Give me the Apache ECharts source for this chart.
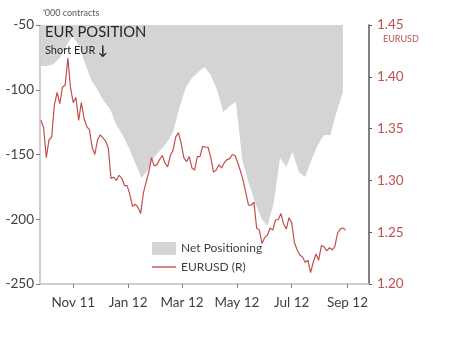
<!DOCTYPE html>
<html><head><meta charset="utf-8">
<script src="https://cdn.jsdelivr.net/npm/echarts@6/dist/echarts.min.js"></script>
<style>html,body{margin:0;padding:0;background:#fff}#c{width:450px;height:339px}</style>
</head><body><div id="c"></div>
<script>
// Weekly net positioning ('000 contracts), weekly from 2011-09-26
const netStart = [2011, 8, 26];
const netStepDays = 7;
const netPositioning = [
  -81.7, -81.7, -80.1, -75.5, -66.2, -58.5, -65.4, -79.3, -92.5, -100.2,
  -108.7, -114.9, -127.2, -134.9, -145.0, -156.6, -168.1, -162.0, -151.9, -146.5,
  -141.1, -132.6, -114.1, -98.6, -90.9, -86.3, -82.4, -88.6, -100.2, -117.2,
  -112.6, -109.5, -154.2, -171.2, -186.7, -199.0, -205.2, -187.5, -152.7, -159.7,
  -148.1, -163.5, -167.4, -154.2, -142.7, -134.9, -134.9, -117.2, -101.7
];
// EURUSD sampled every 3 days from 2011-09-26
const fxStart = [2011, 8, 26];
const fxStepDays = 3;
const eurusd = [
  1.358, 1.351, 1.322, 1.339, 1.342, 1.373, 1.385, 1.374, 1.390, 1.392,
  1.418, 1.389, 1.375, 1.380, 1.358, 1.375, 1.360, 1.352, 1.349, 1.332,
  1.325, 1.339, 1.344, 1.341, 1.338, 1.331, 1.302, 1.303, 1.300, 1.305,
  1.302, 1.295, 1.295, 1.286, 1.275, 1.277, 1.274, 1.268, 1.288, 1.298,
  1.308, 1.322, 1.314, 1.315, 1.320, 1.324, 1.317, 1.313, 1.324, 1.329,
  1.342, 1.346, 1.336, 1.322, 1.318, 1.323, 1.312, 1.310, 1.323, 1.323,
  1.333, 1.332, 1.332, 1.322, 1.308, 1.310, 1.315, 1.312, 1.317, 1.320,
  1.321, 1.325, 1.324, 1.317, 1.309, 1.300, 1.288, 1.276, 1.276, 1.279,
  1.254, 1.252, 1.239, 1.245, 1.247, 1.254, 1.252, 1.262, 1.262, 1.268,
  1.258, 1.253, 1.264, 1.259, 1.240, 1.233, 1.228, 1.226, 1.221, 1.223,
  1.211, 1.221, 1.229, 1.223, 1.237, 1.236, 1.232, 1.235, 1.233, 1.236,
  1.249, 1.253, 1.254, 1.252
];
const tickDates = ['2011-11-01', '2012-01-01', '2012-03-01', '2012-05-01', '2012-07-01', '2012-09-01'];
const monthNames = ['Jan','Feb','Mar','Apr','May','Jun','Jul','Aug','Sep','Oct','Nov','Dec'];
const axisRange = ['2011-09-25', '2012-09-25'];
const leftTicks = {min: -250, max: -50, interval: 50};
const rightTicks = {min: 1.20, max: 1.45, interval: 0.05};

function ts(s){ const p = s.split('-').map(Number); return new Date(p[0], p[1]-1, p[2]).getTime(); }
function seq(start, step, vals){ return vals.map((v,i)=>[new Date(start[0], start[1], start[2] + step*i).getTime(), v]); }

const RED = '#c0504d';
const FONT = 'Lato, "Open Sans", sans-serif';
const chart = echarts.init(document.getElementById('c'));
chart.setOption({
  animation: false,
  backgroundColor: '#fff',
  grid: {left: 40, right: 81, top: 25, bottom: 55},
  legend: {
    orient: 'vertical', left: 147, top: 237, itemWidth: 24, itemHeight: 13, itemGap: 6,
    textStyle: {fontFamily: FONT, fontSize: 12, color: '#404040'},
    data: [
      {name: 'Net Positioning', icon: 'rect', itemStyle: {color: '#d4d4d4'}},
      {name: 'EURUSD (R)', icon: 'path://M0,0H24V1.4H0Z', itemStyle: {color: RED}}
    ]
  },
  xAxis: {
    type: 'value', min: ts(axisRange[0]), max: ts(axisRange[1]),
    axisLine: {lineStyle: {color: '#bfbfbf', width: 1.5}},
    axisTick: {show: true, length: 4, customValues: tickDates.map(ts), lineStyle: {color: '#808080'}},
    axisLabel: {
      customValues: tickDates.map(ts), margin: 12, showMinLabel: true, showMaxLabel: true,
      fontFamily: FONT, fontSize: 13.5, color: '#404040',
      formatter: v => { const d = new Date(v); return monthNames[d.getMonth()] + ' ' + String(d.getFullYear()).slice(2); }
    },
    splitLine: {show: false}
  },
  yAxis: [
    {
      type: 'value', position: 'left', min: leftTicks.min, max: leftTicks.max, interval: leftTicks.interval,
      axisLine: {show: true, lineStyle: {color: '#bfbfbf', width: 1.5}},
      axisTick: {show: true, length: 4, lineStyle: {color: '#808080'}},
      axisLabel: {fontFamily: FONT, fontSize: 13.5, color: '#404040', margin: 6},
      splitLine: {show: false}
    },
    {
      type: 'value', position: 'right', min: rightTicks.min, max: rightTicks.max, interval: rightTicks.interval,
      axisLine: {show: true, lineStyle: {color: '#595959', width: 1.5}},
      axisTick: {show: true, length: 3, lineStyle: {color: '#595959'}},
      axisLabel: {fontFamily: FONT, fontSize: 13.5, color: RED, margin: 8, formatter: v => v.toFixed(2)},
      splitLine: {show: false}
    }
  ],
  series: [
    {
      name: 'Net Positioning', type: 'line', yAxisIndex: 0, symbol: 'none', z: 1,
      data: seq(netStart, netStepDays, netPositioning),
      lineStyle: {width: 0, color: '#d4d4d4'},
      itemStyle: {color: '#d4d4d4'},
      areaStyle: {color: '#d4d4d4', opacity: 1, origin: 'end'}
    },
    {
      name: 'EURUSD (R)', type: 'line', yAxisIndex: 1, symbol: 'none', z: 3,
      data: seq(fxStart, fxStepDays, eurusd),
      lineStyle: {width: 1.2, color: RED},
      itemStyle: {color: RED}
    }
  ],
  graphic: [
    {type: 'text', x: 43, y: 13, style: {text: "'000 contracts", font: '9px ' + FONT, fill: '#595959', textVerticalAlign: 'middle'}},
    {type: 'text', x: 45, y: 32, z: 10, style: {text: 'EUR POSITION', font: '14.8px ' + FONT, fill: '#262626', textVerticalAlign: 'middle'}},
    {type: 'text', x: 45, y: 50, z: 10, style: {text: 'Short EUR', font: '11px ' + FONT, fill: '#262626', textVerticalAlign: 'middle'}},
    {type: 'text', x: 98, y: 51, z: 10, style: {text: '\u2193', font: 'bold 13px ' + FONT, fill: '#262626', textVerticalAlign: 'middle'}},
    {type: 'text', x: 383, y: 39, style: {text: 'EURUSD', font: '9px ' + FONT, fill: RED, textVerticalAlign: 'middle'}}
  ]
});
</script></body></html>
